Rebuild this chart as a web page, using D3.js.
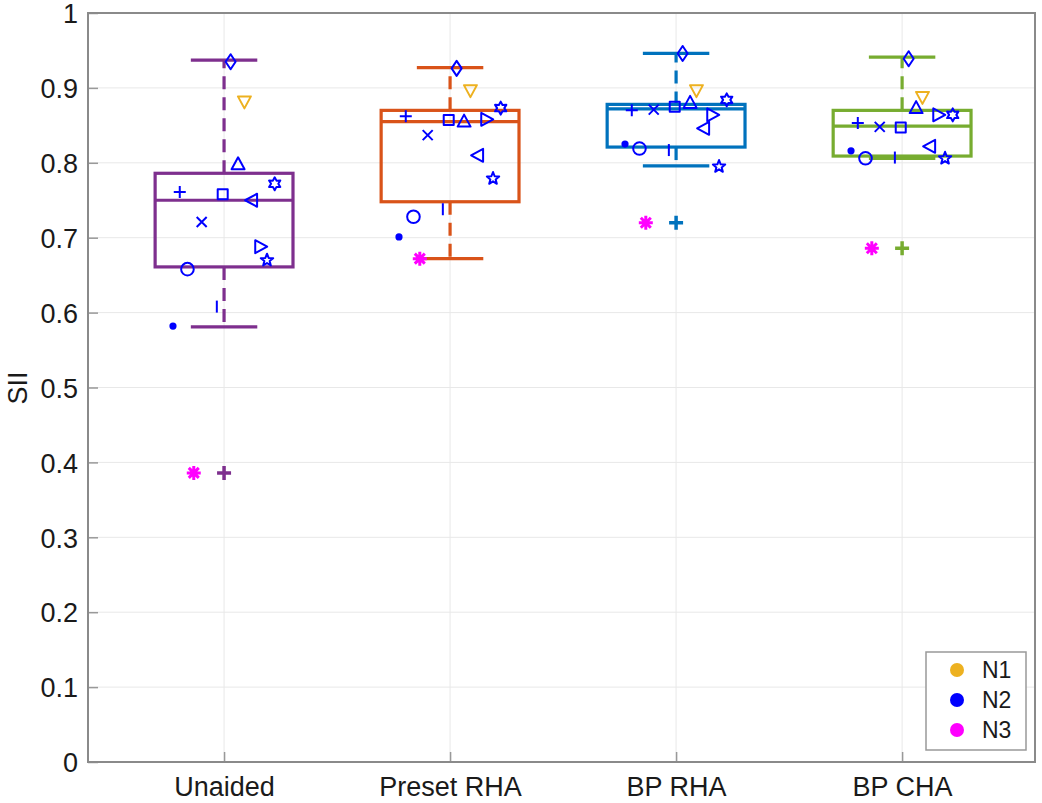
<!DOCTYPE html>
<html>
<head>
<meta charset="utf-8">
<script src="https://cdn.jsdelivr.net/npm/d3@7"></script>
<style>
  body { margin: 0; background: #fff; }
  text { font-family: 'Liberation Sans', Arial, sans-serif; fill: #1a1a1a; }
</style>
</head>
<body>
<script>
// categories and box statistics
const groups = ['Unaided', 'Preset RHA', 'BP RHA', 'BP CHA'];
const groupColors = ['#7E2F8E', '#D95319', '#0072BD', '#77AC30'];
const whiskerLow = [0.581, 0.672, 0.796, 0.806];
const q1 = [0.661, 0.748, 0.821, 0.809];
const median = [0.750, 0.855, 0.872, 0.849];
const q3 = [0.786, 0.870, 0.878, 0.870];
const whiskerHigh = [0.937, 0.927, 0.946, 0.941];
const outliers = [[0.386], [], [0.720], [0.686]];

// subjects: marker, noise group and horizontal jitter (x units)
const subjMarker = ['d', 'v', '^', '+', 's', '<', 'h', 'x', '>', 'p', 'o', '|', '.', '*'];
const subjGroup = ['N2', 'N1', 'N2', 'N2', 'N2', 'N2', 'N2', 'N2', 'N2', 'N2', 'N2', 'N2', 'N2', 'N3'];
const subjJitter = [0.029, 0.09, 0.062, -0.196, -0.006, 0.124, 0.224, -0.099, 0.16, 0.19, -0.162, -0.032, -0.226, -0.134];

// SII per subject (same order as above) for each condition
const siiUnaided = [0.935, 0.882, 0.798, 0.761, 0.758, 0.750, 0.772, 0.721, 0.688, 0.670, 0.658, 0.608, 0.582, 0.386];
const siiPreset = [0.926, 0.897, 0.855, 0.862, 0.857, 0.810, 0.873, 0.837, 0.858, 0.779, 0.728, 0.738, 0.701, 0.672];
const siiBpRha = [0.946, 0.897, 0.880, 0.870, 0.875, 0.846, 0.884, 0.871, 0.864, 0.795, 0.819, 0.817, 0.825, 0.720];
const siiBpCha = [0.939, 0.888, 0.873, 0.853, 0.847, 0.822, 0.864, 0.848, 0.864, 0.806, 0.806, 0.807, 0.816, 0.686];
const siiValues = [siiUnaided, siiPreset, siiBpRha, siiBpCha];

const legendNames = ['N1', 'N2', 'N3'];
const legendColors = { N1: '#EDB120', N2: '#0000FF', N3: '#FF00FF' };
const yTicks = [0, 0.1, 0.2, 0.3, 0.4, 0.5, 0.6, 0.7, 0.8, 0.9, 1];

const w = 1042, h = 803;
const padL = 88, padR = 1035, padT = 13, padB = 762;

const xScale = d3.scaleLinear().domain([0.398, 4.588]).range([padL, padR]);
const yScale = d3.scaleLinear().domain([0, 1]).range([padB, padT]);

const svg = d3.select('body').append('svg').attr('width', w).attr('height', h);
svg.append('rect').attr('width', w).attr('height', h).attr('fill', '#fff');

// grid
svg.append('g').selectAll('line').data(yTicks).enter().append('line')
   .attr('x1', padL).attr('x2', padR)
   .attr('y1', d => yScale(d)).attr('y2', d => yScale(d))
   .attr('stroke', '#e8e8e8').attr('stroke-width', 1);
svg.append('g').selectAll('line').data(groups).enter().append('line')
   .attr('x1', (d, i) => xScale(i + 1)).attr('x2', (d, i) => xScale(i + 1))
   .attr('y1', padT).attr('y2', padB)
   .attr('stroke', '#e8e8e8').attr('stroke-width', 1);

// axes
const yAxis = d3.axisLeft(yScale).tickValues(yTicks).tickSize(-10).tickPadding(10).tickFormat(d3.format('~g'));
const xAxis = d3.axisBottom(xScale).tickValues([1, 2, 3, 4]).tickSize(-10).tickPadding(15)
                .tickFormat(d => groups[d - 1]);
const gy = svg.append('g').attr('transform', 'translate(' + padL + ',0)').call(yAxis);
const gx = svg.append('g').attr('transform', 'translate(0,' + padB + ')').call(xAxis);
[gx, gy].forEach(g => {
  g.select('.domain').remove();
  g.selectAll('.tick line').attr('stroke', '#999').attr('stroke-width', 1.5);
  g.selectAll('.tick text').style('font-size', '27px').attr('fill', '#1a1a1a');
});
gy.selectAll('.tick text').attr('dy', '0.36em');
svg.append('rect').attr('x', padL).attr('y', padT).attr('width', padR - padL).attr('height', padB - padT)
   .attr('fill', 'none').attr('stroke', '#8a8a8a').attr('stroke-width', 2);

svg.append('text').text('SII').attr('transform', 'translate(27,388)rotate(-90)')
   .attr('text-anchor', 'middle').style('font-size', '27px');

// boxes
const boxHalf = 0.305, capHalf = 0.147;
groups.forEach((g, i) => {
  const c = i + 1;
  const col = groupColors[i];
  const bx = svg.append('g').attr('stroke', col).attr('stroke-width', 3.2).attr('fill', 'none');
  bx.append('line').attr('x1', xScale(c)).attr('x2', xScale(c))
    .attr('y1', yScale(q3[i])).attr('y2', yScale(whiskerHigh[i])).attr('stroke-dasharray', '13,8');
  bx.append('line').attr('x1', xScale(c)).attr('x2', xScale(c))
    .attr('y1', yScale(q1[i])).attr('y2', yScale(whiskerLow[i])).attr('stroke-dasharray', '13,8');
  bx.append('line').attr('x1', xScale(c - capHalf)).attr('x2', xScale(c + capHalf))
    .attr('y1', yScale(whiskerHigh[i])).attr('y2', yScale(whiskerHigh[i]));
  bx.append('line').attr('x1', xScale(c - capHalf)).attr('x2', xScale(c + capHalf))
    .attr('y1', yScale(whiskerLow[i])).attr('y2', yScale(whiskerLow[i]));
  bx.append('rect').attr('x', xScale(c - boxHalf)).attr('width', xScale(c + boxHalf) - xScale(c - boxHalf))
    .attr('y', yScale(q3[i])).attr('height', yScale(q1[i]) - yScale(q3[i]));
  bx.append('line').attr('x1', xScale(c - boxHalf)).attr('x2', xScale(c + boxHalf))
    .attr('y1', yScale(median[i])).attr('y2', yScale(median[i]));
  bx.selectAll('path.out').data(outliers[i]).enter().append('path')
    .attr('class', 'out')
    .attr('transform', d => 'translate(' + xScale(c) + ',' + yScale(d) + ')')
    .attr('d', 'M-7,0H7M0,-7V7').attr('stroke-width', 3.5);
});

// MATLAB-like marker shapes
function star(n, ro, ri) {
  const pts = [];
  for (let k = 0; k < 2 * n; k++) {
    const r = k % 2 ? ri : ro;
    const a = -Math.PI / 2 + k * Math.PI / n;
    pts.push([r * Math.cos(a), r * Math.sin(a)]);
  }
  return 'M' + pts.map(p => p[0].toFixed(2) + ',' + p[1].toFixed(2)).join('L') + 'Z';
}
function markerPath(m) {
  switch (m) {
    case 'o': return 'M6.3,0A6.3,6.3 0 1,1 -6.3,0A6.3,6.3 0 1,1 6.3,0Z';
    case '+': return 'M-6,0H6M0,-6V6';
    case 'x': return 'M-5,-5L5,5M-5,5L5,-5';
    case 's': return 'M-5,-5H5V5H-5Z';
    case 'd': return 'M0,-7.5L5,0L0,7.5L-5,0Z';
    case '^': return 'M0,-7L6.5,5L-6.5,5Z';
    case 'v': return 'M0,7L6.5,-5L-6.5,-5Z';
    case '>': return 'M7,0L-5,-6.5L-5,6.5Z';
    case '<': return 'M-7,0L5,-6.5L5,6.5Z';
    case 'p': return star(5, 6.5, 2.8);
    case 'h': return star(6, 6.5, 3.6);
    case '|': return 'M0,-6V6';
    case '.': return 'M2.6,0A2.6,2.6 0 1,1 -2.6,0A2.6,2.6 0 1,1 2.6,0Z';
    case '*': return 'M-7,0H7M0,-7V7M-5,-5L5,5M-5,5L5,-5';
  }
  return '';
}

// subject points
const points = [];
siiValues.forEach((vals, i) => vals.forEach((v, j) => points.push({ c: i + 1, j: j, v: v })));
svg.append('g').selectAll('path').data(points).enter().append('path')
   .attr('transform', d => 'translate(' + xScale(d.c + subjJitter[d.j]) + ',' + yScale(d.v) + ')')
   .attr('d', d => markerPath(subjMarker[d.j]))
   .attr('fill', d => subjMarker[d.j] === '.' ? legendColors[subjGroup[d.j]] : 'none')
   .attr('stroke', d => legendColors[subjGroup[d.j]])
   .attr('stroke-width', d => subjMarker[d.j] === '*' ? 3 : 2)
   .attr('stroke-linejoin', 'round');

// legend
const lg = svg.append('g');
lg.append('rect').attr('x', 926).attr('y', 652).attr('width', 100).attr('height', 98)
  .attr('fill', '#fff').attr('stroke', '#999').attr('stroke-width', 1.5);
legendNames.forEach((n, k) => {
  const yy = 670 + k * 30;
  lg.append('circle').attr('cx', 957).attr('cy', yy).attr('r', 7).attr('fill', legendColors[n]);
  lg.append('text').text(n).attr('x', 982).attr('y', yy).attr('dy', '0.36em').style('font-size', '23px');
});
</script>
</body>
</html>
